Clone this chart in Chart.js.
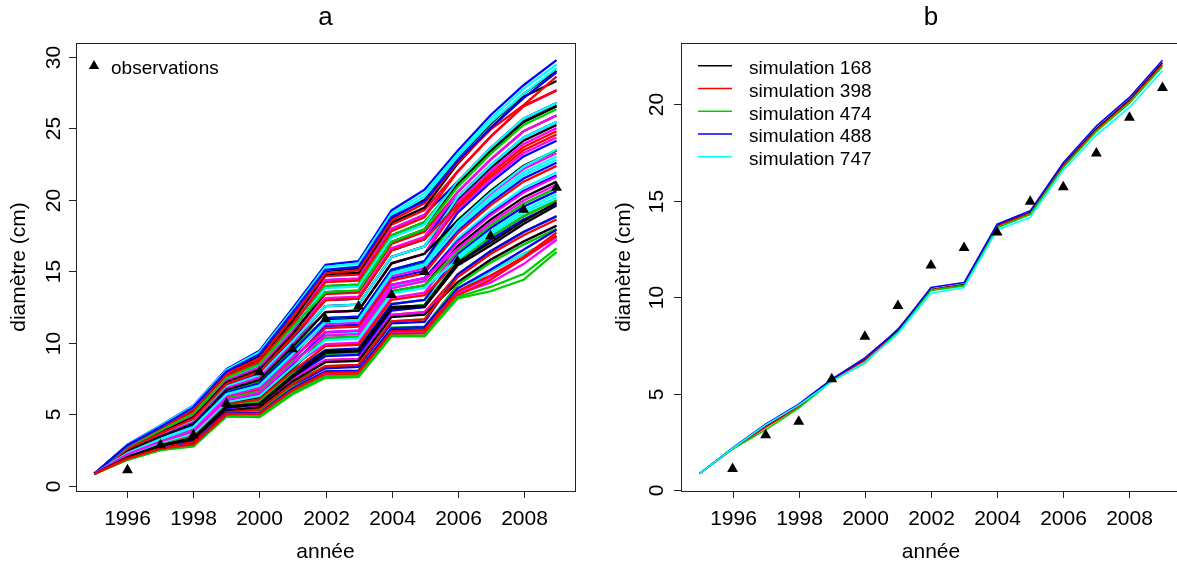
<!DOCTYPE html>
<html>

<head>
    <title>Croissance en diamètre</title>
    <meta charset="utf-8">
    <script src="https://cdn.jsdelivr.net/npm/chart.js"></script>
    <style type="text/css">
        html,
        body {
            margin: 0;
            padding: 0;
            background: #fff;
            overflow: hidden;
        }

        #wrap {
            position: relative;
            width: 1177px;
            height: 565px;
            overflow: hidden;
        }

        canvas {
            position: absolute;
            top: 0;
        }
    </style>
</head>

<body>
    <div id="wrap">
        <canvas id="chartA" width="588" height="565" style="left:0px"></canvas>
        <canvas id="chartB" width="600" height="565" style="left:588px"></canvas>
    </div>

    <script>
        const years = [1995, 1996, 1997, 1998, 1999, 2000, 2001, 2002, 2003, 2004, 2005, 2006, 2007, 2008, 2009];
        const observed = [null, 1.1, 2.85, 3.55, 5.75, 7.95, 9.55, 11.65, 12.55, 13.35, 14.95, 15.7, 17.45, 19.3, 20.85];

        // toutes les simulations (graphe a), couleurs 1:6 comme matplot
        const simAll = [
            [0.85, 1.85, 2.55, 2.85, 4.9, 5.0, 6.7, 7.8, 7.9, 10.9, 10.95, 13.5, 15.0, 16.2, 17.3],
            [0.85, 1.99, 2.76, 3.2, 5.32, 5.56, 7.4, 8.78, 8.88, 11.95, 12.14, 14.76, 16.4, 17.74, 18.84],
            [0.85, 2.13, 2.97, 3.55, 5.74, 6.12, 8.1, 9.48, 9.58, 12.7, 12.99, 15.66, 17.4, 18.84, 19.94],
            [0.85, 2.27, 3.18, 3.9, 6.16, 6.68, 8.8, 11.16, 11.26, 14.5, 15.03, 17.82, 19.8, 21.48, 22.58],
            [0.85, 2.41, 3.39, 4.25, 6.58, 7.24, 9.5, 11.72, 11.82, 15.1, 15.71, 18.18, 20.2, 21.92, 23.02],
            [0.85, 2.55, 3.6, 4.6, 7.0, 7.8, 10.2, 12.56, 12.66, 16.0, 16.73, 19.26, 21.4, 23.24, 24.34],
            [0.85, 2.69, 3.81, 4.95, 7.42, 8.36, 10.9, 13.96, 14.06, 17.5, 18.43, 21.06, 23.4, 25.44, 26.54],
            [0.85, 2.83, 4.02, 5.3, 7.84, 8.92, 11.6, 14.66, 14.76, 18.25, 19.28, 21.96, 24.4, 26.54, 27.64],
            [0.85, 1.95, 2.7, 3.1, 5.2, 5.4, 7.2, 8.36, 8.46, 11.5, 11.63, 14.76, 16.4, 17.74, 18.84],
            [0.85, 2.09, 2.91, 3.45, 5.62, 5.96, 7.9, 9.48, 9.58, 12.7, 12.99, 16.2, 18.0, 19.5, 20.6],
            [0.85, 2.23, 3.12, 3.8, 6.04, 6.52, 8.6, 10.6, 10.7, 13.9, 14.35, 17.28, 19.2, 20.82, 21.92],
            [0.85, 2.37, 3.33, 4.15, 6.46, 7.08, 9.3, 11.3, 11.4, 14.65, 15.2, 18.36, 20.4, 22.14, 23.24],
            [0.85, 2.51, 3.54, 4.5, 6.88, 7.64, 10.0, 12.56, 12.66, 16.0, 16.73, 19.98, 22.2, 24.12, 25.22],
            [0.85, 2.65, 3.75, 4.85, 7.3, 8.2, 10.7, 13.4, 13.5, 16.9, 17.75, 20.52, 22.8, 24.78, 25.88],
            [0.85, 2.79, 3.96, 5.2, 7.72, 8.76, 11.4, 13.96, 14.06, 17.5, 18.43, 21.24, 23.6, 25.66, 26.76],
            [0.85, 1.91, 2.64, 3.0, 5.08, 5.24, 7.0, 8.22, 8.32, 11.35, 11.46, 14.76, 16.4, 17.74, 18.84],
            [0.85, 2.05, 2.85, 3.35, 5.5, 5.8, 7.7, 9.2, 9.3, 12.4, 12.65, 16.02, 17.8, 19.28, 20.38],
            [0.85, 2.19, 3.06, 3.7, 5.92, 6.36, 8.4, 9.9, 10.0, 13.15, 13.5, 16.38, 18.2, 19.72, 20.82],
            [0.85, 2.33, 3.27, 4.05, 6.34, 6.92, 9.1, 11.58, 11.68, 14.95, 15.54, 18.54, 20.6, 22.36, 23.46],
            [0.85, 2.47, 3.48, 4.4, 6.76, 7.48, 9.8, 12.14, 12.24, 15.55, 16.22, 19.44, 21.6, 23.46, 24.56],
            [0.85, 2.61, 3.69, 4.75, 7.18, 8.04, 10.5, 12.98, 13.08, 16.45, 17.24, 20.52, 22.8, 24.78, 25.88],
            [0.85, 2.75, 3.9, 5.1, 7.6, 8.6, 11.2, 14.38, 14.48, 17.95, 18.94, 21.24, 23.6, 25.66, 26.76],
            [0.85, 1.87, 2.58, 2.9, 4.96, 5.08, 6.8, 7.94, 8.04, 11.05, 11.12, 13.5, 15.0, 16.2, 17.3],
            [0.85, 2.01, 2.79, 3.25, 5.38, 5.64, 7.5, 8.78, 8.88, 11.95, 12.14, 14.22, 15.8, 17.08, 18.18],
            [0.85, 2.15, 3.0, 3.6, 5.8, 6.2, 8.2, 10.32, 10.42, 13.6, 14.01, 16.74, 18.6, 20.16, 21.26],
            [0.85, 2.29, 3.21, 3.95, 6.22, 6.76, 8.9, 11.02, 11.12, 14.35, 14.86, 17.64, 19.6, 21.26, 22.36],
            [0.85, 2.43, 3.42, 4.3, 6.64, 7.32, 9.6, 11.72, 11.82, 15.1, 15.71, 18.54, 20.6, 22.36, 23.46],
            [0.85, 2.57, 3.63, 4.65, 7.06, 7.88, 10.3, 12.98, 13.08, 16.45, 17.24, 20.16, 22.4, 24.34, 25.44],
            [0.85, 2.71, 3.84, 5.0, 7.48, 8.44, 11.0, 13.82, 13.92, 17.35, 18.26, 21.24, 23.6, 25.66, 26.76],
            [0.85, 2.85, 4.05, 5.35, 7.9, 9.0, 11.7, 14.38, 14.48, 17.95, 18.94, 21.96, 24.4, 26.54, 27.64],
            [0.85, 1.97, 2.73, 3.15, 5.26, 5.48, 7.3, 8.64, 8.74, 11.8, 11.97, 14.22, 15.8, 17.08, 18.18],
            [0.85, 2.11, 2.94, 3.5, 5.68, 6.04, 8.0, 9.76, 9.86, 13.0, 13.33, 15.66, 17.4, 18.84, 19.94],
            [0.85, 2.25, 3.15, 3.85, 6.1, 6.6, 8.7, 10.32, 10.42, 13.6, 14.01, 16.38, 18.2, 19.72, 20.82],
            [0.85, 2.39, 3.36, 4.2, 6.52, 7.16, 9.4, 11.72, 11.82, 15.1, 15.71, 19.08, 21.2, 23.02, 24.12],
            [0.85, 2.53, 3.57, 4.55, 6.94, 7.72, 10.1, 12.56, 12.66, 16.0, 16.73, 20.16, 22.4, 24.34, 25.44],
            [0.85, 2.67, 3.78, 4.9, 7.36, 8.28, 10.8, 13.12, 13.22, 16.6, 17.41, 20.52, 22.8, 24.78, 25.88],
            [0.85, 2.81, 3.99, 5.25, 7.78, 8.84, 11.5, 14.8, 14.9, 18.4, 19.45, 22.5, 25.0, 27.2, 28.3],
            [0.85, 1.93, 2.67, 3.05, 5.14, 5.32, 7.1, 8.36, 8.46, 11.5, 11.63, 14.58, 16.2, 17.52, 18.62],
            [0.85, 2.07, 2.88, 3.4, 5.56, 5.88, 7.8, 9.2, 9.3, 12.4, 12.65, 15.66, 17.4, 18.84, 19.94],
            [0.85, 2.21, 3.09, 3.75, 5.98, 6.44, 8.5, 10.74, 10.84, 14.05, 14.52, 17.1, 19.0, 20.6, 21.7],
            [0.85, 2.35, 3.3, 4.1, 6.4, 7.0, 9.2, 11.44, 11.54, 14.8, 15.37, 18.0, 20.0, 21.7, 22.8],
            [0.85, 2.49, 3.51, 4.45, 6.82, 7.56, 9.9, 12.14, 12.24, 15.55, 16.22, 19.8, 22.0, 23.9, 25.0],
            [0.85, 2.63, 3.72, 4.8, 7.24, 8.12, 10.6, 13.54, 13.64, 17.05, 17.92, 21.06, 23.4, 25.44, 26.54],
            [0.85, 2.77, 3.93, 5.15, 7.66, 8.68, 11.3, 14.24, 14.34, 17.8, 18.77, 21.96, 24.4, 26.54, 27.64],
            [0.85, 1.89, 2.61, 2.95, 5.02, 5.16, 6.9, 7.94, 8.04, 11.05, 11.12, 14.04, 15.6, 16.86, 17.96],
            [0.85, 2.03, 2.82, 3.3, 5.44, 5.72, 7.6, 9.06, 9.16, 12.25, 12.48, 15.48, 17.2, 18.62, 19.72],
            [0.85, 2.17, 3.03, 3.65, 5.86, 6.28, 8.3, 10.18, 10.28, 13.45, 13.84, 15.84, 17.6, 19.06, 20.16],
            [0.85, 2.31, 3.24, 4.0, 6.28, 6.84, 9.0, 10.74, 10.84, 14.05, 14.52, 16.56, 18.4, 19.94, 21.04],
            [0.85, 2.45, 3.45, 4.35, 6.7, 7.4, 9.7, 12.14, 12.24, 15.55, 16.22, 18.54, 20.6, 22.36, 23.46],
            [0.85, 2.59, 3.66, 4.7, 7.12, 7.96, 10.4, 12.98, 13.08, 16.45, 17.24, 19.62, 21.8, 23.68, 24.78],
            [0.85, 2.73, 3.87, 5.05, 7.54, 8.52, 11.1, 13.54, 13.64, 17.05, 17.92, 20.88, 23.2, 25.22, 26.32],
            [0.85, 2.87, 4.22, 5.62, 8.15, 9.45, 12.4, 15.45, 15.7, 19.25, 20.7, 23.4, 25.9, 28.0, 29.75],
            [0.85, 2.85, 4.2, 5.6, 8.1, 9.35, 12.25, 15.3, 15.55, 19.05, 20.45, 23.2, 25.65, 27.75, 29.45],
            [0.85, 1.88, 2.58, 2.85, 4.95, 4.95, 6.6, 7.8, 7.85, 10.7, 10.75, 13.4, 14.2, 15.5, 17.2],
            [0.85, 2.8, 4.1, 5.45, 7.95, 9.1, 12.0, 15.0, 15.2, 18.7, 20.0, 22.9, 25.3, 27.4, 29.0],
            [0.85, 2.78, 4.05, 5.35, 7.85, 8.9, 11.8, 14.85, 15.05, 18.55, 19.75, 22.6, 24.9, 26.6, 28.6],
            [0.85, 1.82, 2.5, 2.75, 4.85, 4.8, 6.4, 7.55, 7.6, 10.45, 10.45, 13.1, 13.6, 14.4, 16.35],
            [0.85, 1.92, 2.62, 2.95, 5.05, 5.1, 6.8, 8.0, 8.05, 11.0, 11.1, 13.8, 15.1, 16.5, 17.9],
            [0.85, 2.8, 4.15, 5.5, 8.05, 9.25, 12.1, 15.1, 15.35, 18.9, 20.2, 23.0, 25.4, 27.4, 29.2],
            [0.85, 1.9, 2.6, 2.88, 4.98, 5.0, 6.65, 7.85, 7.9, 10.75, 10.8, 13.5, 14.6, 15.9, 17.4],
            [0.85, 2.0, 2.8, 3.3, 5.5, 5.7, 7.6, 9.3, 9.4, 12.4, 12.5, 15.4, 16.8, 18.3, 19.6],
            [0.85, 1.86, 2.56, 2.82, 4.9, 4.9, 6.55, 7.7, 7.75, 10.6, 10.65, 13.3, 14.4, 15.9, 17.5],
            [0.85, 1.85, 2.52, 2.8, 4.88, 4.85, 6.5, 7.65, 7.7, 10.5, 10.5, 13.2, 13.9, 14.8, 16.6],
            [0.85, 2.82, 4.12, 5.5, 8.0, 9.2, 12.1, 15.1, 15.3, 18.8, 19.9, 22.7, 25.0, 27.1, 28.9],
            [0.85, 2.3, 3.25, 4.1, 6.4, 7.0, 9.2, 11.5, 11.6, 14.9, 15.5, 18.4, 20.5, 22.3, 23.5],
            [0.85, 2.2, 3.1, 3.8, 6.0, 6.5, 8.6, 10.5, 10.6, 13.8, 14.3, 17.0, 18.9, 20.5, 21.6],
            [0.85, 2.02, 2.83, 3.35, 5.55, 5.75, 7.7, 9.4, 9.5, 12.5, 12.6, 15.6, 17.0, 18.5, 19.8],
            [0.85, 1.9, 2.6, 2.9, 5.0, 5.05, 6.7, 7.9, 7.95, 10.8, 10.9, 13.6, 14.7, 16.0, 17.7]
        ];

        // les 5 simulations retenues (graphe b)
        const simNames = ['simulation 168', 'simulation 398', 'simulation 474', 'simulation 488', 'simulation 747'];
        const sim168 = [0.85, 2.14, 3.3, 4.35, 5.7, 6.75, 8.25, 10.4, 10.65, 13.7, 14.38, 16.85, 18.72, 20.22, 22.15];
        const sim398 = [0.85, 2.13, 3.25, 4.32, 5.68, 6.7, 8.35, 10.38, 10.62, 13.68, 14.34, 16.8, 18.66, 20.15, 22.05];
        const sim474 = [0.85, 2.12, 3.12, 4.25, 5.65, 6.58, 8.2, 10.35, 10.58, 13.6, 14.28, 16.72, 18.58, 20.05, 21.95];
        const sim488 = [0.85, 2.18, 3.42, 4.45, 5.75, 6.85, 8.3, 10.5, 10.75, 13.78, 14.47, 16.96, 18.86, 20.35, 22.28];
        const sim747 = [0.85, 2.16, 3.38, 4.4, 5.62, 6.62, 8.12, 10.2, 10.5, 13.48, 14.13, 16.58, 18.4, 19.83, 21.73];

        const xTicks = [1996, 1998, 2000, 2002, 2004, 2006, 2008];
        const yTicksA = [0, 5, 10, 15, 20, 25, 30];
        const yTicksB = [0, 5, 10, 15, 20];

        const palette = ['#000000', '#FF0000', '#00CD00', '#0000FF', '#00FFFF', '#FF00FF'];
        const FONT = '"Liberation Sans", Arial, sans-serif';

        function points(vals) {
            return years.map((yr, j) => ({ x: yr, y: vals[j] })).filter(p => p.y !== null);
        }

        function obsDataset() {
            return {
                data: points(observed),
                showLine: false,
                pointStyle: 'triangle',
                pointRadius: 6.3,
                pointBackgroundColor: '#000',
                pointBorderWidth: 0,
                order: -1000
            };
        }

        // axes, cadre et textes dessinés à la manière de R
        function rFrame(cfg) {
            return {
                id: 'rFrame',
                afterDraw(chart) {
                    const ctx = chart.ctx;
                    const a = chart.chartArea;
                    const xs = chart.scales.x, ys = chart.scales.y;
                    ctx.save();
                    ctx.strokeStyle = '#222';
                    ctx.lineWidth = 1;
                    ctx.strokeRect(a.left + 0.5, a.top + 0.5, a.right - a.left, a.bottom - a.top);

                    ctx.fillStyle = '#000';
                    ctx.font = '21px ' + FONT;
                    ctx.textAlign = 'center';
                    ctx.textBaseline = 'alphabetic';
                    xTicks.forEach(t => {
                        const px = Math.round(xs.getPixelForValue(t)) + 0.5;
                        ctx.beginPath();
                        ctx.moveTo(px, a.bottom);
                        ctx.lineTo(px, a.bottom + 7);
                        ctx.stroke();
                        ctx.fillText(String(t), px, 525);
                    });
                    cfg.yTicks.forEach(v => {
                        const py = Math.round(ys.getPixelForValue(v)) + 0.5;
                        ctx.beginPath();
                        ctx.moveTo(a.left - 7, py);
                        ctx.lineTo(a.left, py);
                        ctx.stroke();
                        ctx.save();
                        ctx.translate(cfg.yLabelX, py);
                        ctx.rotate(-Math.PI / 2);
                        ctx.fillText(String(v), 0, 0);
                        ctx.restore();
                    });

                    const cx = cfg.centerX;
                    ctx.fillText('année', cx, 558);
                    ctx.save();
                    ctx.translate(cfg.yTitleX, (a.top + a.bottom) / 2);
                    ctx.rotate(-Math.PI / 2);
                    ctx.fillText('diamètre (cm)', 0, 0);
                    ctx.restore();

                    ctx.font = '26px ' + FONT;
                    ctx.fillText(cfg.title, cx, 25);

                    cfg.legend(ctx);
                    ctx.restore();
                }
            };
        }

        function baseOptions(pad, yMin, yMax) {
            return {
                responsive: false,
                animation: false,
                events: [],
                layout: { padding: pad },
                plugins: { legend: { display: false }, tooltip: { enabled: false } },
                scales: {
                    x: { type: 'linear', min: 1994.44, max: 2009.56, display: false },
                    y: { type: 'linear', min: yMin, max: yMax, display: false }
                },
                elements: { line: { tension: 0, fill: false }, point: { radius: 0 } }
            };
        }

        // graphe a : toutes les simulations
        var dsA = simAll.map((row, i) => ({
            data: points(row),
            borderColor: palette[i % 6],
            borderWidth: 2.3,
            pointRadius: 0,
            order: -i
        }));
        dsA.push(obsDataset());

        new Chart(document.getElementById('chartA'), {
            type: 'line',
            data: { datasets: dsA },
            options: baseOptions({ left: 76, right: 13, top: 43, bottom: 74 }, -0.36, 30.95),
            plugins: [rFrame({
                title: 'a',
                yTicks: yTicksA,
                yLabelX: 60,
                yTitleX: 25,
                centerX: 325.5,
                legend: function (ctx) {
                    ctx.beginPath();
                    ctx.moveTo(94, 60);
                    ctx.lineTo(99.2, 69);
                    ctx.lineTo(88.8, 69);
                    ctx.closePath();
                    ctx.fill();
                    ctx.font = '19px ' + FONT;
                    ctx.textAlign = 'left';
                    ctx.fillText('observations', 111, 74);
                }
            })]
        });

        // graphe b : cinq simulations
        const simSel = [sim168, sim398, sim474, sim488, sim747];
        var dsB = simSel.map((row, i) => ({
            data: points(row),
            borderColor: palette[i],
            borderWidth: 1.6,
            pointRadius: 0,
            order: -i
        }));
        dsB.push(obsDataset());

        new Chart(document.getElementById('chartB'), {
            type: 'line',
            data: { datasets: dsB },
            options: baseOptions({ left: 93, right: 7, top: 43, bottom: 74 }, -0.05, 23.17),
            plugins: [rFrame({
                title: 'b',
                yTicks: yTicksB,
                yLabelX: 75,
                yTitleX: 42,
                centerX: 343,
                legend: function (ctx) {
                    ctx.font = '19px ' + FONT;
                    ctx.textAlign = 'left';
                    ctx.lineWidth = 1.5;
                    simNames.forEach((name, i) => {
                        const y = 65.7 + i * 22.75;
                        ctx.strokeStyle = palette[i];
                        ctx.beginPath();
                        ctx.moveTo(110, y);
                        ctx.lineTo(144, y);
                        ctx.stroke();
                        ctx.fillText(name, 161, y + 8.3);
                    });
                }
            })]
        });
    </script>
</body>

</html>
